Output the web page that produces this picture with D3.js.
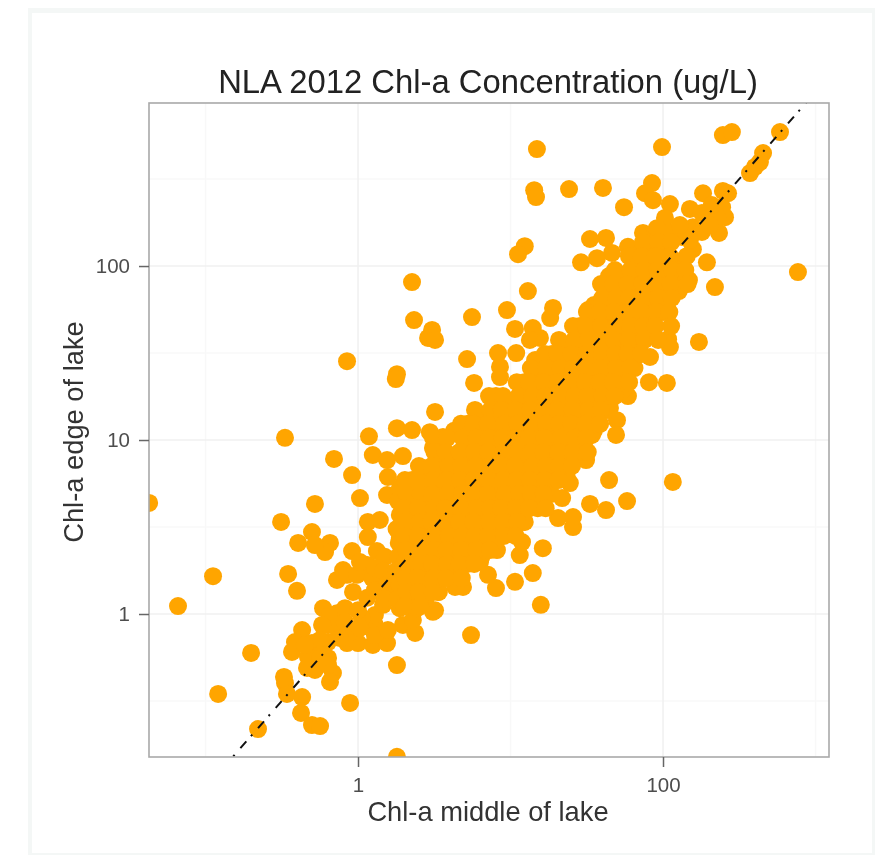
<!DOCTYPE html>
<html><head><meta charset="utf-8">
<script src="https://cdnjs.cloudflare.com/ajax/libs/d3/7.8.5/d3.min.js"></script>
<style>html,body{margin:0;padding:0;background:#fff}svg{display:block;filter:blur(.55px)}text{font-family:"Liberation Sans",Arial,sans-serif}</style>
</head><body><div id="chart"></div>
<script>
const chartTitle = "NLA 2012 Chl-a Concentration (ug/L)";
const xLabel = "Chl-a middle of lake";
const yLabel = "Chl-a edge of lake";
const xTicks = [1, 100];
const yTicks = [1, 10, 100];
const xMinorGrid = [0.1, 10, 1000];
const yMinorGrid = [0.316, 3.16, 31.6, 316];
const oneToOne = [0.1, 1000];

// scattered lakes, Chl-a at middle of lake
const middleScatter = [
2.26,2.33,3.06,2.88,3.20,.847,1.80,1.77,3.20,14.9,
98.5,247,283,585,453,432,372,401,14.3,14.7,
24.2,40.4,84.7,76.2,85.9,55.5,183,247,267,111,
103,150,180,244,255,226,233,157,180,108,
12.4,11.2,33.2,42.3,46.3,58.9,36.9,29.0,73.9,88.5,
157,194,133,767,148,219,13.0,120,44.3,58.9,
9.48,5.59,19.0,18.2,32.2,10.7,14.0,15.6,13.4,172,
108,111,5.19,8.28,10.9,14.5,82.2,8.53,8.53,5.77,
80.9,106,58.9,44.9,49.9,
.332,1.18,1.80,.696,.914,1.25,1.55,1.97,1.57,1.03,
.522,.0427,.313,1.16,1.39,1.16,.499,.405,.655,.608,
.522,.914,.112,.348,.398,.0660,.728,.798,.590,.728,
.636,.430,.386,.499,.369,.199,.470,.636,.636,.522,
.685,.655,.327,.332,.121,.342,.430,.887,.423,.499,
.564,.221,1.80,1.80,.847,1.00,1.25,1.55,1.29,1.29,
1.97,2.37,2.29,3.10,1.06,.927,1.15,1.46,1.88,2.44,
.728,.887,1.55,1.88,1.33,1.15,.847,1.88,2.44,2.67,
3.10,
5.51,15.8,14.0,10.7,8.03,4.88,4.33,3.20,3.35,3.56,
7.12,6.31,11.5,16.3,11.9,7.91,25.7,20.5,25.7,21.8,
33.2,42.3,58.1,44.3,116,24.5,23.5,31.3,49.2,34.2,
23.5,15.1,12.4,9.93,5.26,4.33,
150,129,203,209,2.26,2.96,3.61,
.655,.822,.822,1.00,1.03,1.29,1.57,.985,1.24,1.50,
1.03,1.29,1.62,1.29,.762,.581,.564,.449,.564,.463,
.636,.564
];
// scattered lakes, Chl-a at edge of lake
const edgeScatter = [
80.9,48.9,42.9,38.6,37.6,28.4,23.9,22.4,14.5,470,
483,566,589,589,446,396,342,371,273,249,
277,281,300,262,239,218,262,270,262,227,
189,213,202,218,191,191,155,167,157,157,
130,117,143,145,119,129,111,105,155,151,
125,105,147,92.3,83.0,75.7,71.8,72.8,87.5,86.5,
55.8,50.9,57.4,50.2,55.8,43.5,44.0,38.6,37.6,36.6,
38.0,34.2,29.2,31.6,31.6,28.8,30.0,26.3,23.0,21.3,
21.5,21.3,17.9,15.3,13.0,
10.3,10.5,11.7,7.78,6.29,8.20,7.67,8.09,6.13,4.64,
4.29,4.35,3.38,3.38,3.47,2.77,2.96,2.56,2.56,2.27,
2.49,2.30,1.65,1.70,1.36,1.11,1.57,1.79,1.08,1.01,
.865,.809,.690,.681,.605,.597,.566,.690,.559,.477,
.458,.407,.435,.401,.347,.347,.333,.308,.270,.230,
.227,.218,.509,.151,.681,.681,.664,.681,.865,.987,
.865,.778,.924,1.03,.948,1.34,1.24,1.13,1.08,1.08,
.831,.788,4.83,5.30,2.30,1.91,1.68,2.73,4.64,6.90,
9.0,
.757,1.13,1.72,1.53,1.41,1.43,1.43,1.05,1.34,1.72,
1.68,1.99,2.18,2.39,2.59,2.56,3.16,3.56,3.61,4.64,
4.29,3.96,4.46,5.89,5.74,5.66,6.05,7.67,10.7,10.7,
8.53,4.06,3.38,3.16,2.10,1.91,
141,172,172,224,11.4,11.1,10.4,
.987,1.08,.900,1.05,.831,.757,.809,1.68,1.61,1.68,
1.99,1.84,1.47,1.37,.728,.865,.709,.664,.581,.490,
.509,.559
];
// the dense core along the 1:1 line, Chl-a at middle of lake
const middleCore = [
1.50,1.46,1.54,1.50,
1.83,1.88,1.79,1.85,1.83,1.78,1.87,1.81,
2.26,2.20,2.31,2.25,2.29,2.22,2.27,2.33,2.21,2.26,
2.79,2.86,2.72,2.81,2.76,2.84,2.79,2.71,2.83,2.78,
3.45,3.38,3.52,3.42,3.49,3.36,3.47,3.54,3.40,3.46,3.39,
4.26,4.36,4.17,4.29,4.21,4.33,4.24,4.18,4.35,4.27,
5.26,5.14,5.38,5.22,5.31,5.17,5.36,5.25,5.12,5.29,5.20,
6.50,6.65,6.38,6.55,6.42,6.60,6.47,6.34,6.58,6.52,6.44,
8.03,7.85,8.20,7.96,8.12,7.90,8.08,8.25,7.82,8.00,7.94,8.15,
9.93,10.2,9.70,10.0,9.82,10.1,9.75,9.98,10.3,9.88,
12.3,12.0,12.6,12.2,12.5,11.9,12.4,12.7,12.1,12.3,12.0,
15.1,15.5,14.8,15.2,14.9,15.4,15.0,14.7,15.3,15.1,14.8,
18.7,18.3,19.1,18.6,18.9,18.2,18.8,19.2,18.4,18.7,18.5,
23.1,23.6,22.6,23.2,22.8,23.5,23.0,22.5,23.4,23.1,
28.6,28.0,29.2,28.4,28.9,27.9,28.7,29.3,28.1,28.6,
35.3,36.0,34.6,35.5,34.9,35.8,35.1,34.5,35.7,35.2,
43.6,42.7,44.5,43.3,44.0,42.9,43.8,44.7,42.6,43.5,
53.8,55.0,52.7,54.1,53.0,54.7,53.5,52.5,54.9,
66.5,65.1,67.9,66.0,67.2,65.4,66.8,68.0,65.0,
82.2,80.5,84.0,81.6,83.2,80.9,82.7,
101,103,99.0,102,100,
125,122,127,
2.03,2.08,1.98,2.05,2.01,2.06,1.99,2.04,2.07,2.02,
2.51,2.45,2.57,2.49,2.54,2.47,2.52,2.58,2.46,2.50,2.55,
3.10,3.17,3.04,3.12,3.07,3.15,3.02,3.09,3.18,3.05,3.13,3.08,
3.84,3.76,3.92,3.81,3.88,3.74,3.86,3.93,3.79,3.85,3.77,
4.73,4.85,4.63,4.76,4.68,4.81,4.70,4.60,4.83,4.74,4.66,4.79,
5.85,5.72,5.98,5.80,5.92,5.75,5.88,6.00,5.70,5.83,5.95,5.78,
7.23,7.40,7.08,7.28,7.15,7.35,7.20,7.05,7.38,7.25,7.12,7.32,
8.93,8.75,9.12,8.85,9.02,8.80,8.98,9.15,8.72,8.90,9.05,
11.0,11.3,10.8,11.1,10.9,11.2,10.7,11.0,11.3,10.9,11.1,10.8,
13.6,13.3,13.9,13.5,13.8,13.2,13.7,14.0,13.4,13.6,13.3,
16.8,17.2,16.5,16.9,16.6,17.1,16.7,16.4,17.2,16.8,16.5,17.0,
20.8,20.4,21.2,20.7,21.0,20.3,20.9,21.3,20.5,20.8,20.6,
25.7,26.2,25.2,25.8,25.4,26.1,25.5,25.1,26.3,25.7,25.3,
31.7,31.1,32.3,31.5,32.0,31.0,31.8,32.4,31.2,31.6,32.1,
39.2,40.0,38.5,39.4,38.8,39.8,39.0,38.4,40.1,39.3,38.7,
48.4,47.4,49.4,48.0,49.0,47.6,48.6,49.5,47.3,48.2,
59.8,61.0,58.7,60.2,59.0,60.8,59.4,58.5,61.1,59.9,
73.9,72.4,75.4,73.4,74.8,72.6,74.2,75.6,72.2,
91.3,93.2,89.5,92.0,90.2,92.8,90.8,89.2,93.0,
113,111,115,112,114,110,113,
143,140,145
];
// the dense core along the 1:1 line, Chl-a at edge of lake
const edgeCore = [
2.13,1.77,1.47,1.22,
4.46,3.71,3.08,2.56,2.13,1.77,1.47,1.22,
5.89,4.90,4.06,3.38,2.81,2.33,1.94,1.61,1.34,1.11,
6.46,5.37,4.46,3.71,3.08,2.56,2.13,1.77,1.47,1.22,
8.53,7.09,5.89,4.90,4.06,3.38,2.81,2.33,1.94,1.61,1.34,
11.3,7.78,6.46,5.37,4.46,3.71,3.08,2.56,2.13,1.77,
12.4,10.3,8.53,7.09,5.89,4.90,4.06,3.38,2.81,2.33,1.94,
13.6,11.3,9.36,7.78,6.46,5.37,4.46,3.71,3.08,2.56,2.13,
17.9,14.9,12.4,10.3,8.53,7.09,5.89,4.90,4.06,3.38,2.81,2.33,
16.3,13.6,11.3,9.36,7.78,6.46,5.37,4.46,3.71,3.08,
21.5,17.9,14.9,12.4,10.3,8.53,7.09,5.89,4.90,4.06,3.38,
28.4,23.6,19.6,16.3,13.6,11.3,9.36,7.78,6.46,5.37,4.46,
31.2,25.9,21.5,17.9,14.9,12.4,10.3,8.53,7.09,5.89,4.90,
34.2,28.4,23.6,19.6,16.3,13.6,11.3,9.36,7.78,6.46,
45.2,37.6,31.2,25.9,21.5,17.9,14.9,12.4,10.3,8.53,
59.7,49.6,41.2,34.2,28.4,23.6,19.6,16.3,13.6,11.3,
78.8,65.5,54.4,45.2,37.6,31.2,25.9,21.5,17.9,14.9,
86.5,71.8,59.7,49.6,41.2,34.2,28.4,23.6,19.6,
114,94.8,78.8,65.5,54.4,45.2,37.6,31.2,25.9,
124,104,86.5,71.8,59.7,49.6,41.2,
114,94.8,78.8,65.5,54.4,
104,86.5,71.8,
5.89,4.90,4.06,3.38,2.81,2.33,1.94,1.61,1.34,1.11,
7.09,5.89,4.90,4.06,3.38,2.81,2.33,1.94,1.61,1.34,1.11,
10.3,8.53,7.09,5.89,4.90,4.06,3.38,2.81,2.33,1.94,1.61,1.34,
10.3,8.53,7.09,5.89,4.90,4.06,3.38,2.81,2.33,1.94,1.61,
12.4,10.3,8.53,7.09,5.89,4.90,4.06,3.38,2.81,2.33,1.94,1.61,
14.9,12.4,10.3,8.53,7.09,5.89,4.90,4.06,3.38,2.81,2.33,1.94,
17.9,14.9,12.4,10.3,8.53,7.09,5.89,4.90,4.06,3.38,2.81,2.33,
17.9,14.9,12.4,10.3,8.53,7.09,5.89,4.90,4.06,3.38,2.81,
21.5,17.9,14.9,12.4,10.3,8.53,7.09,5.89,4.90,4.06,3.38,2.81,
25.9,21.5,17.9,14.9,12.4,10.3,8.53,7.09,5.89,4.90,4.06,
31.2,25.9,21.5,17.9,14.9,12.4,10.3,8.53,7.09,5.89,4.90,4.06,
37.6,31.2,25.9,21.5,17.9,14.9,12.4,10.3,8.53,7.09,5.89,
45.2,37.6,31.2,25.9,21.5,17.9,14.9,12.4,10.3,8.53,7.09,
54.4,45.2,37.6,31.2,25.9,21.5,17.9,14.9,12.4,10.3,8.53,
78.8,65.5,54.4,45.2,37.6,31.2,25.9,21.5,17.9,14.9,12.4,
94.8,78.8,65.5,54.4,45.2,37.6,31.2,25.9,21.5,17.9,
114,94.8,78.8,65.5,54.4,45.2,37.6,31.2,25.9,21.5,
137,114,94.8,78.8,65.5,54.4,45.2,37.6,31.2,
165,137,114,94.8,78.8,65.5,54.4,45.2,37.6,
137,114,94.8,78.8,65.5,54.4,45.2,
114,94.8,78.8
];

const W = 875, H = 855;
const panel = {left:149, right:829, top:103, bottom:757};
const x = d3.scaleLog().domain([0.0426, 1226]).range([panel.left, panel.right]);
const y = d3.scaleLog().domain([0.1507, 865]).range([panel.bottom, panel.top]);
const fmt = d => String(d);

const svg = d3.select("#chart").append("svg").attr("width", W).attr("height", H);
svg.append("rect").attr("x",28).attr("y",8).attr("width",W-28).attr("height",H-8).attr("fill","#f4f7f6");
svg.append("rect").attr("x",32).attr("y",13).attr("width",840).attr("height",840).attr("fill","#fff");

svg.append("clipPath").attr("id","panelClip").append("rect")
  .attr("x",panel.left).attr("y",panel.top)
  .attr("width",panel.right-panel.left).attr("height",panel.bottom-panel.top);

const grid = svg.append("g");
grid.selectAll(".vmin").data(xMinorGrid).join("line").attr("x1",x).attr("x2",x)
  .attr("y1",panel.top).attr("y2",panel.bottom).attr("stroke","#f8f8f8").attr("stroke-width",1.5);
grid.selectAll(".hmin").data(yMinorGrid).join("line").attr("y1",y).attr("y2",y)
  .attr("x1",panel.left).attr("x2",panel.right).attr("stroke","#f8f8f8").attr("stroke-width",1.5);
grid.selectAll(".vmaj").data(xTicks).join("line").attr("x1",x).attr("x2",x)
  .attr("y1",panel.top).attr("y2",panel.bottom).attr("stroke","#f0f0f0").attr("stroke-width",1.5);
grid.selectAll(".hmaj").data(yTicks).join("line").attr("y1",y).attr("y2",y)
  .attr("x1",panel.left).attr("x2",panel.right).attr("stroke","#f0f0f0").attr("stroke-width",1.5);

const plot = svg.append("g").attr("clip-path","url(#panelClip)");
const middle = middleScatter.concat(middleCore);
const edge = edgeScatter.concat(edgeCore);
plot.selectAll("circle").data(middle).join("circle")
  .attr("cx", d => x(d)).attr("cy", (d,i) => y(edge[i])).attr("r", 9).attr("fill","#FFA500");
plot.append("path").datum(oneToOne)
  .attr("d", d3.line().x(d => x(d)).y(d => y(d)))
  .attr("fill","none").attr("stroke","#111").attr("stroke-width",2)
  .attr("stroke-dasharray","9 7 2 8.8").attr("stroke-dashoffset",0.7);

svg.append("rect").attr("x",panel.left).attr("y",panel.top)
  .attr("width",panel.right-panel.left).attr("height",panel.bottom-panel.top)
  .attr("fill","none").attr("stroke","#a9a9a9").attr("stroke-width",1.6);

const xAxis = svg.append("g").attr("transform",`translate(0,${panel.bottom})`)
  .call(d3.axisBottom(x).tickValues(xTicks).tickFormat(fmt).tickSize(10).tickSizeOuter(0).tickPadding(10));
const yAxis = svg.append("g").attr("transform",`translate(${panel.left},0)`)
  .call(d3.axisLeft(y).tickValues(yTicks).tickFormat(fmt).tickSize(10).tickSizeOuter(0).tickPadding(9));
[xAxis,yAxis].forEach(a => {
  a.select(".domain").remove();
  a.selectAll(".tick line").attr("stroke","#666").attr("stroke-width",1.5);
  a.selectAll(".tick text").attr("fill","#4d4d4d").style("font-size","20.5px");
});

svg.append("text").attr("x",488).attr("y",93).attr("text-anchor","middle")
  .attr("fill","#222").style("font-size","32.8px").text(chartTitle);
svg.append("text").attr("x",488).attr("y",821).attr("text-anchor","middle")
  .attr("fill","#333").style("font-size","27.3px").text(xLabel);
svg.append("text").attr("transform","translate(83,432) rotate(-90)").attr("text-anchor","middle")
  .attr("fill","#333").style("font-size","27.3px").text(yLabel);
</script></body></html>
